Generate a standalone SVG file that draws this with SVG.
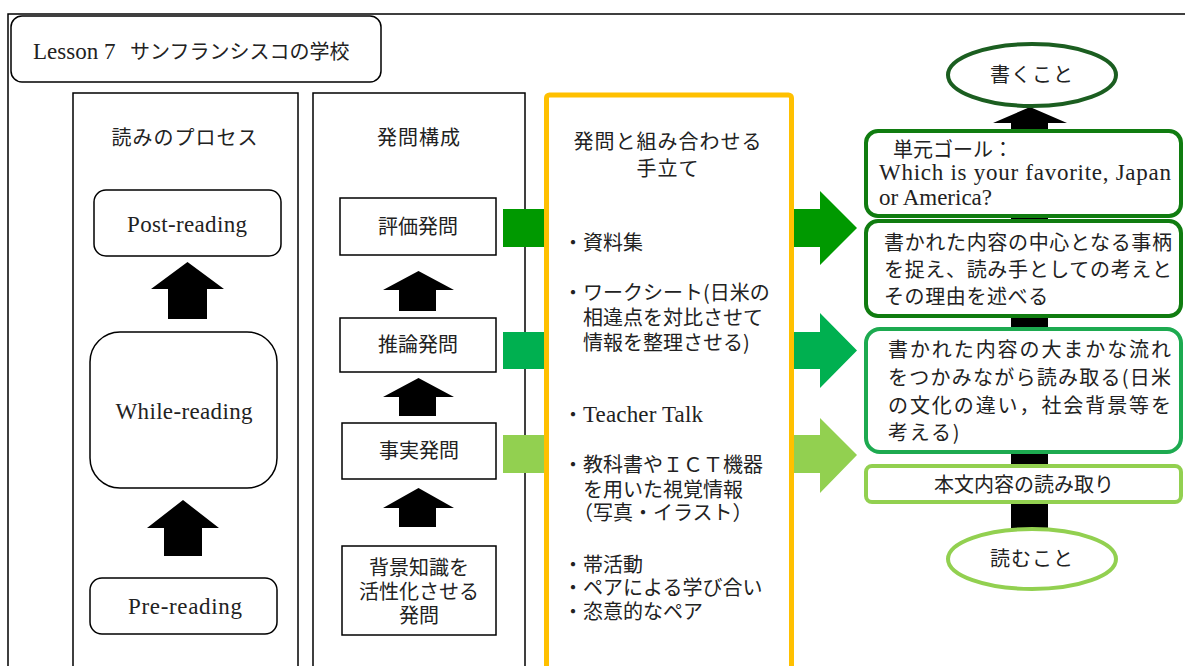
<svg xmlns="http://www.w3.org/2000/svg" width="1185" height="666" viewBox="0 0 1185 666">
<style>
.frame{fill:none;stroke:#000;stroke-width:1.5}
.col{fill:#fff;stroke:#000;stroke-width:1.5}
.box{fill:#fff;stroke:#000;stroke-width:1.5}
.gbox{fill:#fff;stroke-width:4}
.jp{font-family:"Noto Sans CJK JP","Noto Sans",sans-serif;font-size:20px;fill:#222}
.lat{font-family:"Liberation Serif","Noto Sans CJK JP",serif;font-size:23px;fill:#222}
.mid{text-anchor:middle}
.blk{fill:#000}
</style>
<rect width="1185" height="666" fill="#fff"/>
<path class="frame" d="M8,666 V14 H1185"/>

<g id="title">
<rect class="box" x="11" y="16" width="370" height="66" rx="11" stroke-width="2"/>
<text class="lat" x="33" y="59" font-size="22">Lesson 7</text>
<text class="jp" x="130" y="59" font-size="20">サンフランシスコの学校</text>
</g>

<g id="col-reading-process">
<rect class="col" x="73" y="93" width="225" height="600"/>
<text class="jp mid" x="185" y="145" letter-spacing="1">読みのプロセス</text>
</g>
<g id="col-questions">
<rect class="col" x="313" y="93" width="212" height="600"/>
<text class="jp mid" x="419" y="145" letter-spacing="1">発問構成</text>
</g>

<g id="connectors">
<polygon class="blk" points="187.5,262 224,289 207,289 207,319 168,319 168,289 151,289"/>
<polygon class="blk" points="183,500 219,528 202,528 202,556 164,556 164,528 147,528"/>
<polygon class="blk" points="418.5,271 454,290 436,290 436,311 399,311 399,290 383,290"/>
<polygon class="blk" points="418.5,378 454,397 436,397 436,416 399,416 399,397 383,397"/>
<polygon class="blk" points="418.5,488 454,508 436,508 436,527 399,527 399,508 383,508"/>
<polygon class="blk" points="1030,107 1067,123 1048,123 1048,530 1011,530 1011,123 993,123"/>
<rect x="503" y="209" width="45" height="38" fill="#009900"/>
<rect x="503" y="332" width="45" height="37" fill="#00B050"/>
<rect x="503" y="435" width="45" height="38" fill="#92D050"/>
<polygon fill="#009900" points="790,209 820,209 820,191 857,228 820,265 820,247 790,247"/>
<polygon fill="#00B050" points="790,332 820,332 820,313 857,350.5 820,388 820,369 790,369"/>
<polygon fill="#92D050" points="790,435 820,435 820,418 857,455 820,493 820,473 790,473"/>
</g>

<g id="post-reading">
<rect class="box" x="94" y="190" width="187" height="66" rx="12"/>
<text class="lat mid" x="187" y="232" textLength="120">Post-reading</text>
</g>
<g id="while-reading">
<rect class="box" x="90" y="332" width="187" height="156" rx="30"/>
<text class="lat mid" x="184" y="419" textLength="137">While-reading</text>
</g>
<g id="pre-reading">
<rect class="box" x="90" y="578" width="187" height="56" rx="12"/>
<text class="lat mid" x="185" y="614" textLength="114">Pre-reading</text>
</g>

<g id="q-evaluation">
<rect class="box" x="340" y="198" width="156" height="57"/>
<text class="jp mid" x="418" y="234">評価発問</text>
</g>
<g id="q-inference">
<rect class="box" x="340" y="318" width="156" height="54"/>
<text class="jp mid" x="418" y="352">推論発問</text>
</g>
<g id="q-fact">
<rect class="box" x="342" y="423" width="154" height="56"/>
<text class="jp mid" x="419" y="458">事実発問</text>
</g>
<g id="q-background">
<rect class="box" x="342" y="546" width="154" height="89"/>
<text class="jp mid" x="419" y="575">背景知識を</text>
<text class="jp mid" x="419" y="599">活性化させる</text>
<text class="jp mid" x="419" y="623">発問</text>
</g>

<g id="col-supports">
<rect x="546.5" y="95" width="245" height="600" rx="3" fill="none" stroke="#FFC000" stroke-width="5"/>
<text class="jp mid" x="668" y="149" letter-spacing="1">発問と組み合わせる</text>
<text class="jp mid" x="668" y="176" letter-spacing="1">手立て</text>
<text class="jp" x="563" y="250">・資料集</text>
<text class="jp" x="563" y="300">・ワークシート(日米の</text>
<text class="jp" x="583" y="325">相違点を対比させて</text>
<text class="jp" x="583" y="350">情報を整理させる)</text>
<text class="jp" x="563" y="422">・</text>
<text class="lat" x="583" y="422" font-size="22" textLength="120">Teacher Talk</text>
<text class="jp" x="563" y="472">・教科書やＩＣＴ機器</text>
<text class="jp" x="583" y="497">を用いた視覚情報</text>
<text class="jp" x="573" y="520">（写真・イラスト）</text>
<text class="jp" x="563" y="572">・帯活動</text>
<text class="jp" x="563" y="595">・ペアによる学び合い</text>
<text class="jp" x="563" y="619">・恣意的なペア</text>
</g>

<g id="writing">
<ellipse cx="1032" cy="75" rx="84" ry="31" fill="#fff" stroke="#1B5E20" stroke-width="4"/>
<text class="jp mid" x="1032" y="82" font-size="18" letter-spacing="1">書くこと</text>
</g>
<g id="unit-goal">
<rect class="gbox" x="866" y="131" width="315" height="85" rx="12" stroke="#107C10"/>
<text class="jp" x="873" y="157">　単元ゴール：</text>
<text class="lat" x="879" y="180" font-size="21" textLength="292">Which is your favorite, Japan</text>
<text class="lat" x="879" y="205" font-size="21">or America?</text>
</g>
<g id="goal-evaluate">
<rect class="gbox" x="866" y="221" width="315" height="95" rx="12" stroke="#107C10"/>
<text class="jp" x="884" y="250" textLength="288">書かれた内容の中心となる事柄</text>
<text class="jp" x="884" y="277" textLength="288">を捉え、読み手としての考えと</text>
<text class="jp" x="884" y="304" letter-spacing="0.6">その理由を述べる</text>
</g>
<g id="goal-infer">
<rect class="gbox" x="866" y="329" width="315" height="123" rx="14" stroke="#1DAA50"/>
<text class="jp" x="888" y="357" textLength="283">書かれた内容の大まかな流れ</text>
<text class="jp" x="888" y="385" textLength="283">をつかみながら読み取る(日米</text>
<text class="jp" x="888" y="413" textLength="283">の文化の違い，社会背景等を</text>
<text class="jp" x="888" y="440" letter-spacing="1.8">考える)</text>
</g>
<g id="goal-fact">
<rect class="gbox" x="866" y="466" width="315" height="36" rx="6" stroke="#92D050"/>
<text class="jp mid" x="1024" y="492">本文内容の読み取り</text>
</g>
<g id="reading">
<ellipse cx="1032" cy="559" rx="84" ry="30" fill="#fff" stroke="#92D050" stroke-width="4"/>
<text class="jp mid" x="1032" y="566" font-size="18" letter-spacing="1">読むこと</text>
</g>
</svg>
